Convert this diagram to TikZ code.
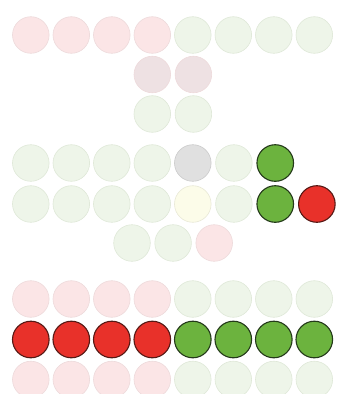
\documentclass[tikz,border=0pt]{standalone}
\usetikzlibrary{positioning}

\definecolor{palered}{HTML}{FBE5E6}
\definecolor{paleredline}{HTML}{EDDADB}
\definecolor{palegreen}{HTML}{EEF5E9}
\definecolor{palegreenline}{HTML}{DFE8D8}
\definecolor{palerose}{HTML}{EEE1E3}
\definecolor{palegray}{HTML}{E0E0E0}
\definecolor{paleyellow}{HTML}{FCFCE9}
\definecolor{leafgreen}{HTML}{6CB33E}
\definecolor{leafline}{HTML}{243A1A}
\definecolor{signalred}{HTML}{E8312A}
\definecolor{signalline}{HTML}{561915}

\begin{document}
\begin{tikzpicture}[
    x=1pt, y=-1pt,
    dot/.style={circle, draw, minimum size=36.6pt, inner sep=0pt, line width=0.6pt},
    fadered/.style={dot, fill=palered, draw=paleredline},
    fadegreen/.style={dot, fill=palegreen, draw=palegreenline},
    faderose/.style={dot, fill=palerose, draw=paleredline},
    fadegray/.style={dot, fill=palegray, draw=palegray!90!black},
    fadeyellow/.style={dot, fill=paleyellow, draw=paleyellow!92!black},
    oned/.style={dot, fill=signalred, draw=signalline, line width=1.1pt},
    ongreen/.style={dot, fill=leafgreen, draw=leafline, line width=1.1pt}
]
    \useasboundingbox (0,0) rectangle (337,394);

    % --- top row ---
    \foreach \i in {0,...,3}
        \node [fadered] (top\i) at (30.8+40.5*\i, 35) {};
    \foreach \i in {4,...,7}
        \node [fadegreen] (top\i) at (30.8+40.5*\i, 35) {};

    % --- stem ---
    \node [faderose] (stemA) at (152.3, 74.5) {};
    \node [faderose] (stemB) [right=3.9pt of stemA] {};
    \node [fadegreen] (stemC) at (152.3, 114) {};
    \node [fadegreen] (stemD) [right=3.9pt of stemC] {};

    % --- middle block ---
    \foreach \i in {0,...,3} {
        \node [fadegreen] (midA\i) at (30.8+40.5*\i, 163) {};
        \node [fadegreen] (midB\i) at (30.8+40.5*\i, 204) {};
    }
    \node [fadegray] (midA4) at (192.8, 163) {};
    \node [fadeyellow] (midB4) at (192.8, 204) {};
    \node [fadegreen] (midA5) [right=3.9pt of midA4] {};
    \node [fadegreen] (midB5) [right=3.9pt of midB4] {};
    \node [ongreen] (midA6) [right=3.9pt of midA5] {};
    \node [ongreen] (midB6) [right=3.9pt of midB5] {};
    \node [oned] (midB7) [right=3.9pt of midB6] {};

    % --- short row ---
    \node [fadegreen] (lowA) at (132, 243) {};
    \node [fadegreen] (lowB) [right=3.9pt of lowA] {};
    \node [fadered] (lowC) [right=3.9pt of lowB] {};

    % --- bottom rows ---
    \foreach \i in {0,...,3} {
        \node [fadered] (upper\i) at (30.8+40.5*\i, 299) {};
        \node [oned] (main\i) at (30.8+40.5*\i, 339.5) {};
        \node [fadered] (under\i) at (30.8+40.5*\i, 379.5) {};
    }
    \foreach \i in {4,...,7} {
        \node [fadegreen] (upper\i) at (30.8+40.5*\i, 299) {};
        \node [ongreen] (main\i) at (30.8+40.5*\i, 339.5) {};
        \node [fadegreen] (under\i) at (30.8+40.5*\i, 379.5) {};
    }

\end{tikzpicture}
\end{document}
